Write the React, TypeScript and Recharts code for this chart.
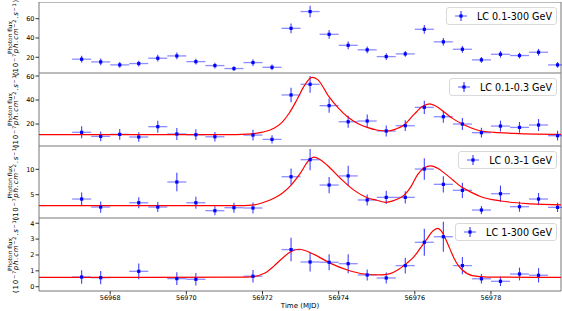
import React from "react";
import {
  ComposedChart,
  Scatter,
  Line,
  XAxis,
  YAxis,
  ErrorBar,
  ReferenceArea,
  Legend,
} from "recharts";

const X_DOMAIN: [number, number] = [56966.13, 56979.84];
const X_TICKS = [56968, 56970, 56972, 56974, 56976, 56978];

// 0.1-300 GeV
const timesAll = [
  56967.25, 56967.75, 56968.25, 56968.75, 56969.25, 56969.75, 56970.25, 56970.75,
  56971.25, 56971.75, 56972.25, 56972.75, 56973.25, 56973.75, 56974.25, 56974.75,
  56975.25, 56975.75, 56976.25, 56976.75, 56977.25, 56977.75, 56978.25, 56978.75,
  56979.25, 56979.75,
];
const fluxAll = [
  18, 15.2, 12.1, 13.5, 19, 21.4, 15.5, 11.4, 8.3, 14.5, 9.6, 50, 67.4, 43.8, 32.4,
  27.7, 20.7, 23.5, 49, 36, 28.3, 17.3, 23.1, 21.8, 25.2, 12.1,
];
const errAll = [
  3.5, 3.5, 3, 3, 3.5, 3.5, 3, 3, 2.5, 3.5, 3, 5, 6, 4.5, 4, 3.5, 3.5, 3, 4.5, 4, 3.5,
  3, 3.5, 3, 3.5, 3,
];

// 0.1-0.3 GeV
const timesLow = [
  56967.25, 56967.75, 56968.25, 56968.75, 56969.25, 56969.75, 56970.25, 56970.75,
  56971.75, 56972.25, 56972.75, 56973.25, 56973.75, 56974.25, 56974.75, 56975.25,
  56975.75, 56976.25, 56976.75, 56977.25, 56977.75, 56978.25, 56978.75, 56979.25,
  56979.75,
];
const fluxLow = [
  13.1, 9.7, 11.4, 9.2, 17.8, 11.7, 11.1, 9.4, 10.8, 7.2, 44.2, 53.1, 35.3, 21.9, 22.5,
  14.2, 18.6, 33.9, 26.1, 20, 12.8, 18.3, 17.2, 19.2, 10.3,
];
const errLow = [
  5, 4, 4.5, 4, 5, 5, 4.5, 4, 4.5, 3.5, 6, 7, 6, 5, 5.5, 4.5, 4.5, 5.5, 5, 5, 4, 4.5,
  4.5, 5, 4,
];
const modelLowT = [
  56966.13, 56971.0, 56971.6, 56972.0, 56972.3, 56972.5, 56972.7, 56972.9, 56973.1,
  56973.3, 56973.45, 56973.74, 56974.0, 56974.23, 56974.5, 56974.75, 56975.0, 56975.28,
  56975.5, 56975.71, 56975.98, 56976.2, 56976.38, 56976.55, 56976.77, 56977.0, 56977.21,
  56977.5, 56977.74, 56978.2, 56978.61, 56979.2, 56979.84,
];
const modelLowF = [
  11.1, 11.1, 11.6, 13.2, 16.5, 21, 29, 40, 52, 58.9, 57, 43, 33, 26, 20.5, 17.2, 15,
  14.2, 15.8, 19, 28, 34.5, 36.8, 35, 30, 24.5, 20.6, 16.5, 14.2, 12.9, 12.2, 11.6, 11.3,
];

// 0.3-1 GeV
const timesMid = [
  56967.25, 56967.75, 56968.75, 56969.25, 56969.75, 56970.25, 56970.75, 56971.25,
  56971.75, 56972.75, 56973.25, 56973.75, 56974.25, 56974.75, 56975.25, 56975.75,
  56976.25, 56976.75, 56977.25, 56977.75, 56978.25, 56978.75, 56979.25, 56979.75,
];
const fluxMid = [
  4.14, 2.56, 3.41, 2.56, 7.5, 3.41, 1.84, 2.43, 2.37, 8.54, 11.9, 6.9, 8.7, 3.95, 4.47,
  4.47, 10.06, 7.04, 5.86, 1.97, 5.19, 2.63, 4.14, 2.5,
];
const errMid = [
  1.3, 1.1, 1.1, 1.0, 1.8, 1.2, 0.9, 1.0, 1.1, 1.6, 2.1, 1.6, 2.0, 1.1, 1.3, 1.2, 2.1,
  1.6, 1.5, 0.8, 1.6, 1.0, 1.2, 0.9,
];
const modelMidT = [
  56966.13, 56971.5, 56971.77, 56972.0, 56972.3, 56972.5, 56972.74, 56973.0, 56973.2,
  56973.35, 56973.5, 56973.7, 56974.05, 56974.4, 56974.75, 56975.0, 56975.24, 56975.5,
  56975.72, 56975.9, 56976.07, 56976.25, 56976.42, 56976.6, 56976.77, 56977.0, 56977.21,
  56977.5, 56977.74, 56978.26, 56979.05, 56979.84,
];
const modelMidF = [
  2.83, 2.85, 2.97, 3.4, 4.3, 5.2, 6.8, 9.3, 11.6, 12.4, 12.0, 10.8, 8.2, 5.9, 4.4, 3.9,
  3.5, 4.0, 4.9, 6.6, 8.9, 10.3, 10.7, 10.2, 9.3, 7.9, 6.6, 5.4, 4.6, 3.75, 3.2, 3.0,
];

// 1-300 GeV
const timesHigh = [
  56967.25, 56967.75, 56968.75, 56969.75, 56970.25, 56971.75, 56972.75, 56973.25,
  56973.75, 56974.25, 56974.75, 56975.25, 56975.75, 56976.25, 56976.75, 56977.25,
  56977.75, 56978.25, 56978.75, 56979.25,
];
const fluxHigh = [
  0.61, 0.57, 0.97, 0.51, 0.47, 0.66, 2.34, 1.56, 1.54, 1.45, 0.74, 0.55, 1.33, 2.8,
  3.15, 1.33, 0.5, 0.34, 0.8, 0.72,
];
const errHigh = [
  0.42, 0.42, 0.5, 0.4, 0.4, 0.4, 0.74, 0.6, 0.5, 0.6, 0.35, 0.35, 0.5, 0.85, 0.95,
  0.55, 0.3, 0.3, 0.4, 0.45,
];
const modelHighT = [
  56966.13, 56971.6, 56971.77, 56972.0, 56972.12, 56972.3, 56972.47, 56972.74, 56972.96,
  56973.35, 56973.79, 56974.23, 56974.67, 56975.1, 56975.35, 56975.55, 56975.8, 56975.98,
  56976.15, 56976.33, 56976.47, 56976.6, 56976.7, 56976.8, 56976.92, 56977.03, 56977.14,
  56977.25, 56977.51, 56977.91, 56979.84,
];
const modelHighF = [
  0.59, 0.6, 0.63, 0.8, 0.95, 1.3, 1.68, 2.2, 2.36, 2.04, 1.47, 1.05, 0.8, 0.74, 0.82,
  1.05, 1.5, 1.9, 2.45, 3.05, 3.5, 3.68, 3.5, 3.05, 2.4, 1.8, 1.35, 1.05, 0.7, 0.61,
  0.59,
];

const BIN_HALF = 0.25;

function toPoints(t: number[], f: number[], e: number[]) {
  return t.map((x, i) => ({ x, y: f[i], ex: BIN_HALF, ey: e[i] }));
}
function toCurve(t: number[], f: number[]) {
  return t.map((x, i) => ({ x, y: f[i] }));
}

const panels = [
  {
    name: "LC 0.1-300 GeV",
    points: toPoints(timesAll, fluxAll, errAll),
    model: [] as { x: number; y: number }[],
    domain: [3.7, 77.3] as [number, number],
    ticks: [20, 40, 60],
    top: 2,
    height: 71,
  },
  {
    name: "LC 0.1-0.3 GeV",
    points: toPoints(timesLow, fluxLow, errLow),
    model: toCurve(modelLowT, modelLowF),
    domain: [1.7, 62.5] as [number, number],
    ticks: [20, 40, 60],
    top: 73,
    height: 73,
  },
  {
    name: "LC 0.3-1 GeV",
    points: toPoints(timesMid, fluxMid, errMid),
    model: toCurve(modelMidT, modelMidF),
    domain: [0.4, 14.6] as [number, number],
    ticks: [5, 10],
    top: 146,
    height: 72,
  },
  {
    name: "LC 1-300 GeV",
    points: toPoints(timesHigh, fluxHigh, errHigh),
    model: toCurve(modelHighT, modelHighF),
    domain: [-0.27, 4.33] as [number, number],
    ticks: [0, 1, 2, 3, 4],
    top: 218,
    height: 73,
  },
];

const FONT = "DejaVu Sans, sans-serif";
const BLUE = "#0000ff";

function Marker(props: any) {
  const { cx, cy } = props;
  if (cx == null || cy == null) return null;
  return <rect x={cx - 1.6} y={cy - 1.6} width={3.2} height={3.2} fill={BLUE} />;
}

function LegendBox({ label }: { label: string }) {
  return (
    <div
      style={{
        display: "flex",
        alignItems: "center",
        height: 16,
        padding: "0 4px 0 7px",
        background: "rgba(255,255,255,0.85)",
        border: "1px solid #d9d9d9",
        borderRadius: 3,
        fontFamily: FONT,
        fontSize: 9.6,
        color: "#000",
        whiteSpace: "nowrap",
      }}
    >
      <svg width={14} height={12} style={{ marginRight: 9 }}>
        <line x1={1} x2={13} y1={6} y2={6} stroke="rgba(0,0,255,0.5)" strokeWidth={1.3} />
        <line x1={7} x2={7} y1={1} y2={11} stroke="rgba(0,0,255,0.8)" strokeWidth={1.1} />
        <rect x={5.4} y={4.4} width={3.2} height={3.2} fill={BLUE} />
      </svg>
      {label}
    </div>
  );
}

function Panel({ p, showX }: { p: (typeof panels)[number]; showX: boolean }) {
  const axisH = showX ? 20 : 0;
  return (
    <div style={{ position: "absolute", left: 0, top: p.top }}>
      <ComposedChart
        width={562}
        height={p.height + axisH}
        margin={{ top: 0, right: 1, bottom: 0, left: 0 }}
      >
        <XAxis
          type="number"
          dataKey="x"
          domain={X_DOMAIN}
          allowDataOverflow
          ticks={X_TICKS}
          hide={!showX}
          height={axisH}
          axisLine={false}
          tickLine={{ stroke: "#333" }}
          tickSize={3.5}
          tickMargin={0.5}
          tick={{ fontSize: 6.5, fill: "#000", fontFamily: FONT }}
        />
        <YAxis
          type="number"
          domain={p.domain}
          allowDataOverflow
          ticks={p.ticks}
          width={39}
          axisLine={false}
          tickLine={{ stroke: "#333" }}
          tickSize={3.5}
          tickMargin={1}
          tick={{ fontSize: 6.5, fill: "#000", fontFamily: FONT }}
        />
        <ReferenceArea
          x1={X_DOMAIN[0]}
          x2={X_DOMAIN[1]}
          y1={p.domain[0]}
          y2={p.domain[1]}
          fill="none"
          stroke="#777"
          strokeWidth={1}
          ifOverflow="visible"
        />
        <Scatter
          data={p.points}
          dataKey="y"
          shape={<Marker />}
          isAnimationActive={false}
        >
          <ErrorBar
            dataKey="ex"
            direction="x"
            width={0}
            stroke="rgba(0,0,255,0.45)"
            strokeWidth={1.3}
            isAnimationActive={false}
          />
          <ErrorBar
            dataKey="ey"
            direction="y"
            width={0}
            stroke="rgba(0,0,255,0.75)"
            strokeWidth={1.1}
            isAnimationActive={false}
          />
        </Scatter>
        {p.model.length > 0 && (
          <Line
            data={p.model}
            dataKey="y"
            type="monotone"
            stroke="#ff0000"
            strokeWidth={1.2}
            dot={false}
            activeDot={false}
            isAnimationActive={false}
          />
        )}
        <Legend
          layout="horizontal"
          verticalAlign="middle"
          align="center"
          content={() => <LegendBox label={p.name} />}
          wrapperStyle={{ top: 5, right: 5, left: "auto", width: "auto", height: "auto" }}
        />
      </ComposedChart>
    </div>
  );
}

function YLabel({ cy }: { cy: number }) {
  return (
    <g fontFamily={FONT} fill="#000">
      <text
        transform={`translate(9.5, ${cy}) rotate(-90)`}
        textAnchor="middle"
        dominantBaseline="central"
        fontSize={5.8}
      >
        Photon flux
      </text>
      <text
        transform={`translate(16, ${cy}) rotate(-90)`}
        textAnchor="middle"
        dominantBaseline="central"
        fontSize={7}
        letterSpacing={0.75}
      >
        (10
        <tspan dy={-2.4} fontSize={5}>
          −7
        </tspan>
        <tspan dy={2.4} fontStyle="italic">
          ph.cm
        </tspan>
        <tspan dy={-2.4} fontSize={5}>
          −2
        </tspan>
        <tspan dy={2.4}>.</tspan>
        <tspan fontStyle="italic">s</tspan>
        <tspan dy={-2.4} fontSize={5}>
          −1
        </tspan>
        <tspan dy={2.4}>)</tspan>
      </text>
    </g>
  );
}

export default function App() {
  return (
    <div
      style={{
        position: "absolute",
        left: 0,
        top: 0,
        width: 562,
        height: 311,
        background: "#fff",
        overflow: "hidden",
      }}
    >
      {panels.map((p, i) => (
        <Panel key={p.name} p={p} showX={i === panels.length - 1} />
      ))}
      <svg
        width={562}
        height={311}
        style={{ position: "absolute", left: 0, top: 0, pointerEvents: "none" }}
      >
        {panels.map((p) => (
          <YLabel key={p.name} cy={p.top + p.height / 2} />
        ))}
        <text
          x={300}
          y={306}
          textAnchor="middle"
          dominantBaseline="central"
          fontFamily={FONT}
          fontSize={7}
        >
          Time (MJD)
        </text>
      </svg>
    </div>
  );
}
